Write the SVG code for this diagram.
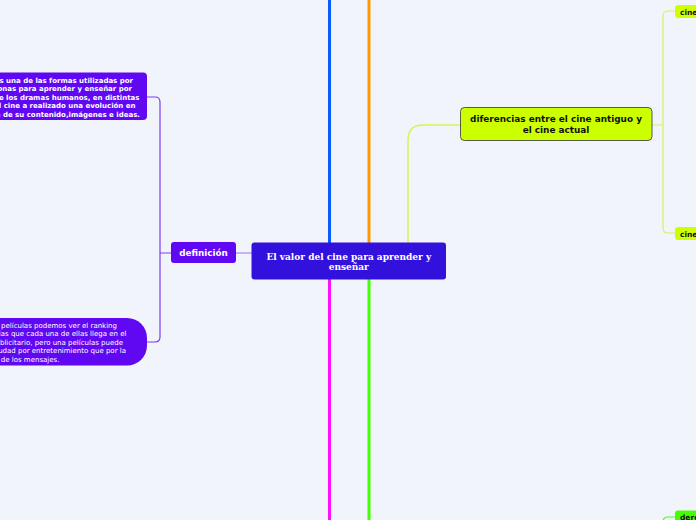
<svg xmlns="http://www.w3.org/2000/svg" width="696" height="520" viewBox="0 0 696 520">
<style>
.bg{fill:#f2f4fc}
.purple{fill:#6108f2}
.lime{fill:#ccff00}
.limeb{fill:#ccff00;stroke:#333;stroke-width:0.8}
.green{fill:#44ff00}
.tb{font-family:"DejaVu Sans",sans-serif;font-weight:bold;fill:#fff}
.tn{font-family:"DejaVu Sans",sans-serif;fill:#fff}
.tk{font-family:"DejaVu Sans",sans-serif;font-weight:bold;fill:#111}
.c{fill:none;stroke-linecap:round}
</style>
<rect class="bg" x="0" y="0" width="696" height="520"/>
<g id="connectors">
  <line x1="329.5" y1="0" x2="329.5" y2="243" stroke="#0a5cff" stroke-width="3"/>
  <line x1="369" y1="0" x2="369" y2="243" stroke="#ff9900" stroke-width="3"/>
  <line x1="329.5" y1="279" x2="329.5" y2="520" stroke="#ff11ff" stroke-width="3"/>
  <line x1="369" y1="279" x2="369" y2="520" stroke="#44ff00" stroke-width="3"/>
  <path class="c" d="M408,243 V140 Q408,125 423,125 H461" stroke="#d6f25a" stroke-width="1.5"/>
  <path class="c" d="M236,253 H251" stroke="#c6b2f5" stroke-width="2"/>
  <path class="c" d="M171,253 H160 M147,97 H155 Q160,97 160,102 V337 Q160,342 155,342 H147" stroke="#7a3cf0" stroke-width="1.2"/>
  <path class="c" d="M652,125 H663 M675,11 H668 Q663,11 663,16 V228 Q663,233 668,233 H675" stroke="#d6f25a" stroke-width="1.2"/>
  <path class="c" d="M675,517 H668 Q663,517 663,522" stroke="#44ff22" stroke-width="1.2"/>
</g>
<g id="central">
  <rect x="251.5" y="242.5" width="194.5" height="37" rx="3" fill="#3311dd"/>
  <text x="348.75" y="259.5" text-anchor="middle" font-family="'DejaVu Serif',serif" font-weight="bold" font-size="9" fill="#fff">El valor del cine para aprender y</text>
  <text x="348.75" y="270" text-anchor="middle" font-family="'DejaVu Serif',serif" font-weight="bold" font-size="9" fill="#fff">enseñar</text>
</g>
<g id="definicion">
  <rect class="purple" x="171" y="242" width="65" height="21" rx="3"/>
  <text class="tb" x="203.5" y="256.2" text-anchor="middle" font-size="8.8">definición</text>
</g>
<g id="def-texto-1">
  <rect class="purple" x="-20" y="72.5" width="167" height="47.5" rx="4"/>
  <g class="tb" font-size="7" text-anchor="end">
    <text x="133" y="82.5">s una de las formas utilizadas por</text>
    <text x="132" y="91">onas para aprender y enseñar por</text>
    <text x="139.5" y="99.5">e los dramas humanos, en distintas</text>
    <text x="135.5" y="108">el cine a realizado una evolución en</text>
    <text x="140" y="116.5">a de su contenido,imágenes e ideas.</text>
  </g>
</g>
<g id="def-texto-2">
  <rect class="purple" x="-20" y="318" width="167" height="47.5" rx="20"/>
  <g class="tn" font-size="7" text-anchor="end">
    <text x="117" y="327.5">películas podemos ver el ranking</text>
    <text x="126.5" y="336">las que cada una de ellas llega en el</text>
    <text x="123" y="344.5">blicitario, pero una películas puede</text>
    <text x="126" y="353">udad por entretenimiento que por la</text>
    <text x="59.5" y="361.5">de los mensajes.</text>
  </g>
</g>
<g id="diferencias">
  <rect class="limeb" x="460.5" y="107.5" width="191.5" height="33" rx="4"/>
  <text class="tk" x="556" y="122" text-anchor="middle" font-size="8.9">diferencias entre el cine antiguo y</text>
  <text class="tk" x="556" y="133" text-anchor="middle" font-size="8.9">el cine actual</text>
</g>
<g id="cine-1">
  <rect class="lime" x="675" y="5" width="30" height="13" rx="3"/>
  <text class="tk" x="680" y="14.5" font-size="7.5">cine</text>
</g>
<g id="cine-2">
  <rect class="lime" x="675" y="227" width="30" height="13" rx="3"/>
  <text class="tk" x="680" y="236.5" font-size="7.5">cine</text>
</g>
<g id="dere">
  <rect class="green" x="675" y="510.5" width="30" height="13" rx="3"/>
  <text class="tk" x="680" y="520" font-size="7.5">dere</text>
</g>
</svg>
